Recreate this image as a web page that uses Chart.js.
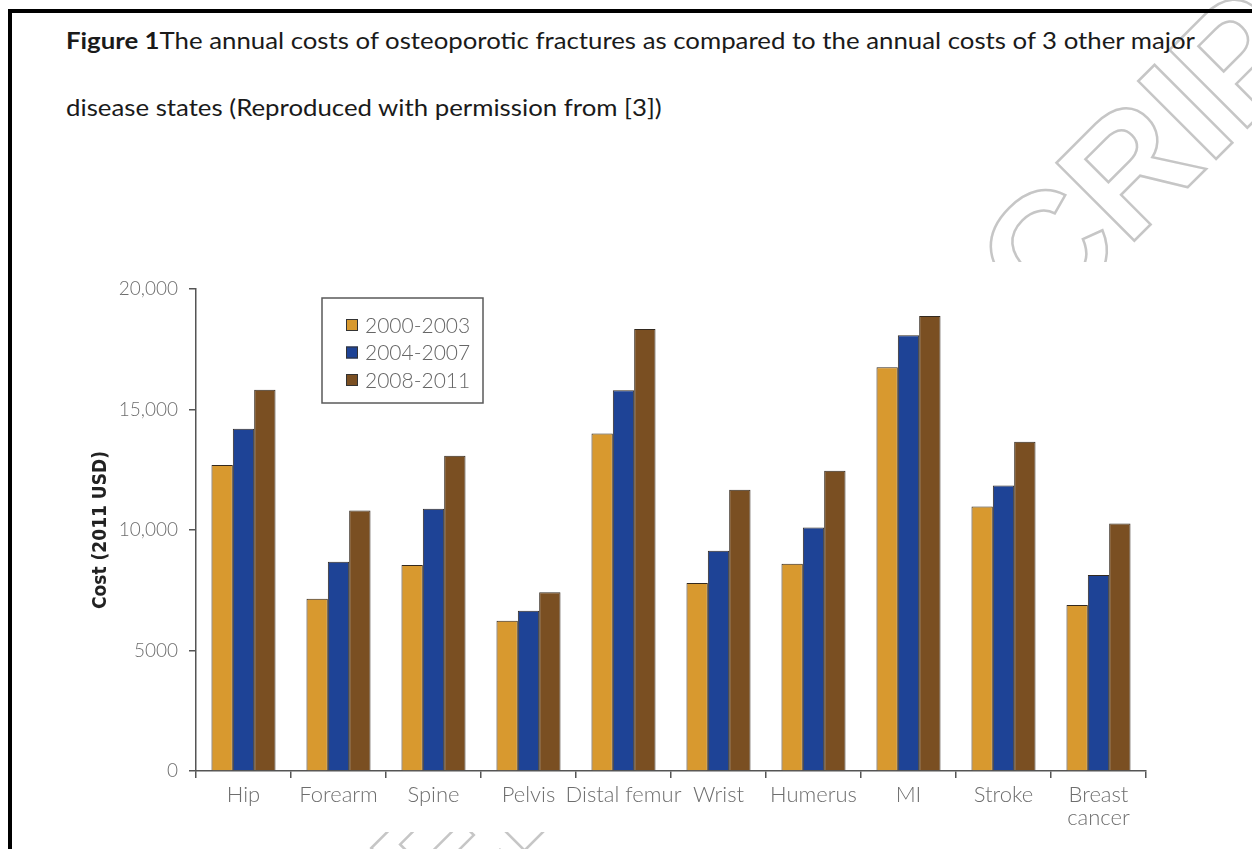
<!DOCTYPE html>
<html>
<head>
<meta charset="utf-8">
<script src="https://cdn.jsdelivr.net/npm/chart.js@4.4.1/dist/chart.umd.min.js"></script>
<style>
html, body { margin: 0; padding: 0; background: #fff; }
body { width: 1252px; height: 849px; position: relative; overflow: hidden; }
#mark { position: absolute; left: 0; top: 0; }
#frame { position: absolute; left: 8px; top: 9px; width: 1300px; height: 900px;
         border-top: 4px solid #000; border-left: 4px solid #000; }
.cap { position: absolute; left: 66px; font-family: Lato, 'Open Sans', sans-serif;
       font-size: 23px; line-height: 23px; color: #1a1a1a; white-space: nowrap;
       transform-origin: 0 0; }
#cap1 { top: 29px; }
#cap2 { top: 96px; }
#wrap { position: absolute; left: 50px; top: 262px; width: 1202px; height: 570px; background: #fff; }
</style>
</head>
<body>
<!-- faint "accepted manuscript" watermark behind the figure -->
<svg id="mark" width="1252" height="849">
  <g font-family="'Liberation Sans', Arial, sans-serif" font-weight="bold" font-size="160" fill="none" stroke="#c6c6c6" stroke-width="2.5">
    <text x="1045" y="330" transform="rotate(-45 1045 330)">CRIPT</text>
    <text x="1045" y="330" text-anchor="end" transform="rotate(-45 1045 330)">ACCEPTED MANUS</text>
  </g>
</svg>
<div id="frame"></div>
<div class="cap" id="cap1"><b>Figure 1</b>The annual costs of osteoporotic fractures as compared to the annual costs of 3 other major</div>
<div class="cap" id="cap2">disease states (Reproduced with permission from [3])</div>
<div id="wrap"><canvas id="costChart" width="1202" height="570"></canvas></div>

<script>
// data
const categories = ['Hip', 'Forearm', 'Spine', 'Pelvis', 'Distal femur', 'Wrist', 'Humerus', 'MI', 'Stroke', ['Breast', 'cancer']];
const periods = ['2000-2003', '2004-2007', '2008-2011'];
const costs2000 = [12700, 7150, 8550, 6230, 14000, 7800, 8600, 16750, 10980, 6890];
const costs2004 = [14200, 8680, 10880, 6650, 15800, 9140, 10100, 18080, 11850, 8130];
const costs2008 = [15820, 10810, 13080, 7420, 18340, 11670, 12460, 18880, 13660, 10270];
const yTickLabels = ['0', '5000', '10,000', '15,000', '20,000'];

const barColors = ['#d8992f', '#1e4396', '#7a4f22'];

// stretch the caption so it spans the same width as the original
const cap1 = document.getElementById('cap1');
const cap2 = document.getElementById('cap2');
const k = 1129 / cap1.getBoundingClientRect().width;
cap1.style.transform = 'scaleX(' + k + ')';
cap2.style.transform = 'scaleX(' + k + ')';

// legend drawn as a boxed key inside the plot
const boxLegend = {
    id: 'boxLegend',
    afterDraw(chart) {
        const ctx = chart.ctx;
        const x = 272, y = 36, w = 161, h = 105;
        ctx.save();
        ctx.strokeStyle = '#5a5a5a';
        ctx.lineWidth = 1.5;
        ctx.strokeRect(x, y, w, h);
        ctx.font = '300 21px Lato, sans-serif';
        ctx.textBaseline = 'middle';
        chart.data.datasets.forEach((ds, i) => {
            const cy = y + 27 + i * 27.5;
            ctx.fillStyle = ds.backgroundColor;
            ctx.fillRect(x + 24, cy - 6, 12, 12);
            ctx.strokeStyle = '#333';
            ctx.lineWidth = 1;
            ctx.strokeRect(x + 24.5, cy - 5.5, 11, 11);
            ctx.fillStyle = '#666';
            ctx.fillText(ds.label, x + 43, cy + 1);
        });
        ctx.restore();
    }
};

const seriesValues = [costs2000, costs2004, costs2008];

new Chart(document.getElementById('costChart'), {
    type: 'bar',
    data: {
        labels: categories,
        datasets: periods.map((p, i) => ({
            label: p,
            data: seriesValues[i],
            backgroundColor: barColors[i],
            borderColor: '#33291f',
            borderWidth: 1,
            barPercentage: 1,
            categoryPercentage: 0.674
        }))
    },
    options: {
        responsive: false,
        animation: false,
        layout: { padding: { top: 27, right: 106, left: 0, bottom: 0 } },
        plugins: { legend: { display: false }, tooltip: { enabled: false } },
        scales: {
            x: {
                afterFit: s => { s.height = 61; },
                border: { display: true, color: '#555', width: 1.5 },
                grid: { drawOnChartArea: false, drawTicks: true, tickLength: 7, color: '#555', lineWidth: 1.5 },
                ticks: {
                    color: '#6e6e6e',
                    font: { family: 'Lato, sans-serif', size: 22, weight: '300', lineHeight: 1.05 },
                    padding: 5, maxRotation: 0, autoSkip: false
                }
            },
            y: {
                min: 0, max: 20000,
                afterFit: s => { s.width = 146; },
                border: { display: true, color: '#555', width: 1.5 },
                grid: { drawOnChartArea: false, drawTicks: true, tickLength: 7, color: '#555', lineWidth: 1.5 },
                ticks: {
                    stepSize: 5000,
                    color: '#6e6e6e',
                    font: { family: 'Lato, sans-serif', size: 19, weight: '300' },
                    padding: 11,
                    callback: (v, i) => yTickLabels[i]
                },
                title: {
                    display: true,
                    text: 'Cost (2011 USD)',
                    color: '#222',
                    font: { family: "'Liberation Sans Narrow', 'DejaVu Sans Condensed', sans-serif", size: 19, weight: 'bold' },
                    padding: { top: 40, bottom: 0 }
                }
            }
        }
    },
    plugins: [boxLegend]
});
</script>
</body>
</html>
